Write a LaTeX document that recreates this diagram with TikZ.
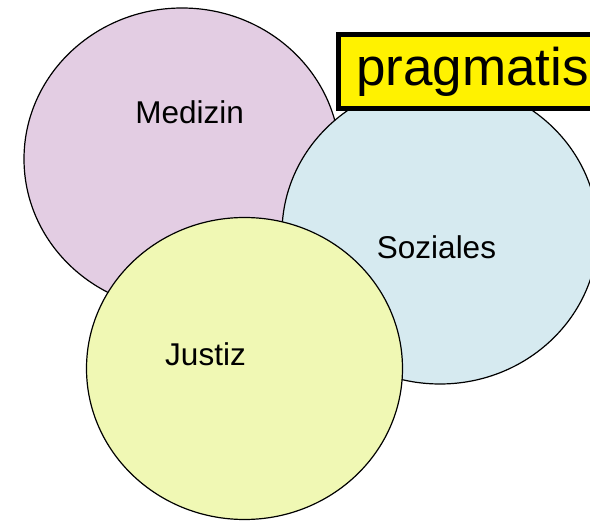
\documentclass[tikz,border=0pt]{standalone}
\usepackage{fontspec}
\setmainfont{Liberation Sans}
\usetikzlibrary{shapes.geometric}
\definecolor{medizinfill}{RGB}{227,205,227}
\definecolor{sozialfill}{RGB}{214,234,240}
\definecolor{justizfill}{RGB}{240,248,180}
\begin{document}
\begin{tikzpicture}[x=1pt, y=-1pt,
	bereich/.style={ellipse, draw, line width=1.2pt, minimum width=316pt, minimum height=302pt, inner sep=0pt},
	etikett/.style={anchor=base, font=\fontsize{31.5}{36}\selectfont},
	schild/.style={draw, line width=5pt, fill=yellow, anchor=west, minimum height=74pt, text width=300pt, align=left, inner xsep=18pt, font=\fontsize{53}{60}\selectfont}]
	\useasboundingbox (0,0) rectangle (590,521);
	\clip (0,0) rectangle (590,521);
	\node[bereich, fill=medizinfill] (medizin) at (182,159) {};% Medizin
	\node[bereich, fill=sozialfill] (soziales) at (440,233) {};% Soziales
	\node[bereich, fill=justizfill] (justiz) at (244.5,368.5) {};% Justiz
	\node[etikett] (tmedizin) at (189.6,124) {Medizin};
	\node[etikett] (tsoziales) at (436.5,259) {Soziales};
	\node[etikett] (tjustiz) at (205.5,366) {Justiz};
	\node[schild] (pragma) at (335.5,71.5) {pragmatis};% Schild oben
\end{tikzpicture}
\end{document}
